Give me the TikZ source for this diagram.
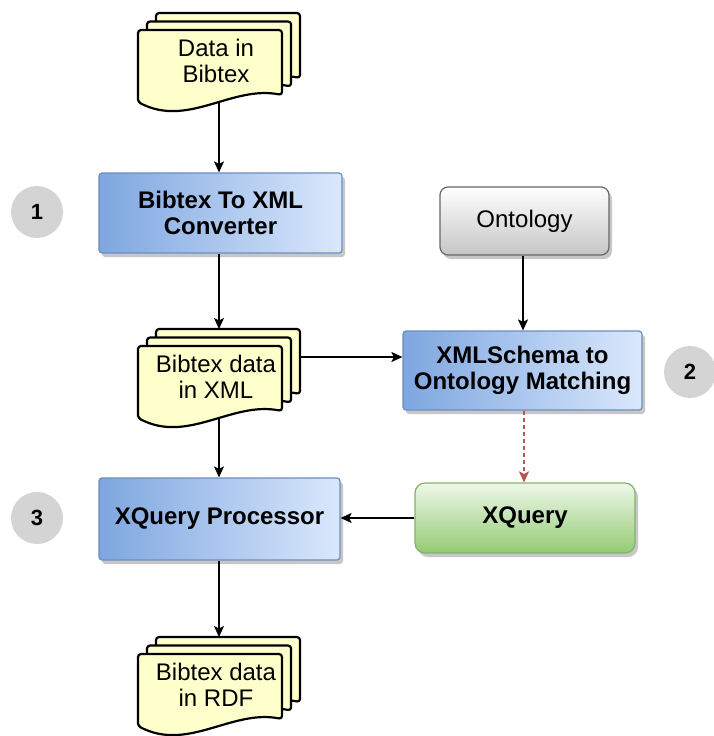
\documentclass[tikz,border=0pt]{standalone}
\usepackage{fontspec}
\setmainfont{Liberation Sans}
\usetikzlibrary{arrows.meta,shadows,calc}

\definecolor{sheetfill}{HTML}{FFFFCC}
\definecolor{blueedge}{HTML}{6C8EBF}
\definecolor{bluedark}{HTML}{7EA6E0}
\definecolor{bluelight}{HTML}{DAE8FC}
\definecolor{grayedge}{HTML}{666666}
\definecolor{greenedge}{HTML}{82B366}
\definecolor{greentop}{HTML}{EEF7EA}
\definecolor{greenmid}{HTML}{C9E6BA}
\definecolor{greenbot}{HTML}{93CB73}
\definecolor{numfill}{HTML}{D4D4D4}
\definecolor{redflow}{HTML}{B85450}

\tikzset{
  txt/.style={font=\fontsize{24}{26}\selectfont, align=center, text=black},
  docsheet/.style={fill=sheetfill, draw=black, line width=2.2pt, rounded corners=3pt, line join=round},
  doctext/.style={txt, inner sep=0pt},
  softshadow/.style={drop shadow={shadow xshift=3pt, shadow yshift=-4pt, fill=black, opacity=0.22}},
  procbox/.style={txt, font=\fontsize{24}{26}\selectfont\bfseries, draw=blueedge, line width=1.2pt,
    rounded corners=3pt, left color=bluedark, right color=bluelight, softshadow, inner sep=0pt},
  ontbox/.style={txt, draw=grayedge, line width=1.2pt, rounded corners=8pt,
    top color=white, bottom color=gray!45, softshadow, inner sep=0pt},
  xqbox/.style={txt, font=\fontsize{24}{26}\selectfont\bfseries, draw=greenedge, line width=1.2pt,
    rounded corners=10pt, top color=greentop, middle color=greenmid, bottom color=greenbot,
    softshadow, inner sep=0pt},
  stepnum/.style={circle, fill=numfill, minimum size=52pt, inner sep=0pt,
    font=\fontsize{22}{26}\selectfont\bfseries},
  flow/.style={draw=black, line width=1.3pt, -{Stealth[length=11pt,width=10pt,inset=2.5pt]}},
  flowdash/.style={draw=redflow, line width=1.3pt, dash pattern=on 4pt off 3pt,
    -{Stealth[length=11pt,width=10pt,inset=2.5pt]}}
}

% one sheet of a document stack, top-left corner at (#1,#2)
\newcommand\sheetpath[2]{%
  \path[docsheet] (#1,{#2+72}) -- (#1,#2) -- ({#1+144},#2) -- ({#1+144},{#2+65})
    .. controls ({#1+94},{#2+55}) and ({#1+50},{#2+98}) .. (#1,{#2+72}) -- cycle;}

% a stack of three sheets: name, front sheet top-left x, y, text
\newcommand\docstack[4]{%
  \sheetpath{#2+18}{#3-17}
  \sheetpath{#2+9}{#3-8.5}
  \sheetpath{#2}{#3}
  \node[doctext] (#1) at ({#2+78},{#3+31}) {#4};
  \coordinate (#1-in) at ({#2+81},{#3-17});
  \coordinate (#1-out) at ({#2+81},{#3+72});
  \coordinate (#1-east) at ({#2+162},{#3+11});
}

\begin{document}
\begin{tikzpicture}[x=1pt,y=-1pt]
  \useasboundingbox (0,0) rectangle (714,736);

  % documents
  \docstack{bibdata}{138}{30}{Data in\\Bibtex}
  \docstack{xmldata}{138}{346}{Bibtex data\\in XML}
  \docstack{rdfdata}{138}{654}{Bibtex data\\in RDF}

  % processing steps
  \node[procbox, minimum width=243pt, minimum height=80pt] (conv) at (220.5,213) {Bibtex To XML\\Converter};
  \node[ontbox, minimum width=169pt, minimum height=68pt] (onto) at (524.5,221) {Ontology};
  \node[procbox, minimum width=239pt, minimum height=79pt] (match) at (522.5,370.5) {XMLSchema to\\Ontology Matching};
  \node[xqbox, minimum width=220pt, minimum height=70pt] (xq) at (525,518) {XQuery};
  \node[procbox, minimum width=241pt, minimum height=82pt] (proc) at (219.5,519) {XQuery Processor};

  % step numbers
  \node[stepnum] (s1) at (37,212) {1};
  \node[stepnum] (s2) at (690,372) {2};
  \node[stepnum] (s3) at (37,518) {3};

  % connectors
  \draw[flow] (bibdata-out) -- (bibdata-out |- conv.north);
  \draw[flow] (conv.south -| xmldata-in) -- (xmldata-in);
  \draw[flow] (xmldata-east) -- (xmldata-east -| match.west);
  \draw[flow] (onto.south -| 523,0) -- (match.north -| 523,0);
  \draw[flowdash] (match.south -| 524,0) -- (xq.north -| 524,0);
  \draw[flow] (xq.west) -- (xq.west -| proc.east);
  \draw[flow] (xmldata-out) -- (xmldata-out |- proc.north);
  \draw[flow] (proc.south -| rdfdata-in) -- (rdfdata-in);
\end{tikzpicture}
\end{document}
